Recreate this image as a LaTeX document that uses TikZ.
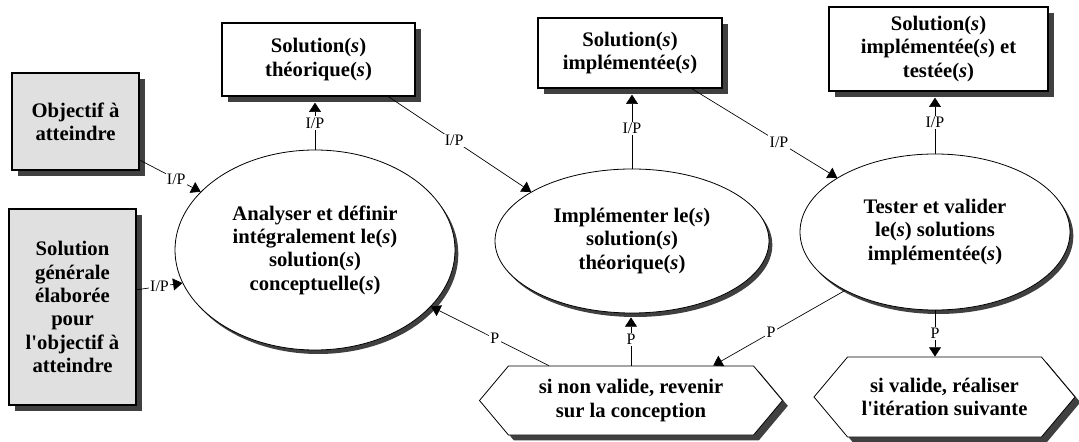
\documentclass[tikz,border=0pt]{standalone}
\usepackage{fontspec}
\setmainfont{Liberation Serif}
\usetikzlibrary{arrows.meta,shapes.geometric,shapes.symbols,shadows}

\definecolor{boxgray}{RGB}{224,224,224}
\definecolor{shadowgray}{RGB}{64,64,64}
\newcommand{\pls}{(\textit{s})}
\newcommand{\apo}{\textquotesingle}

\tikzset{every picture/.style={line width=0.8pt}}
\tikzset{
  shade box/.style={draw, line width=1pt, fill=white, align=center, inner sep=0pt,
    font=\bfseries\fontsize{15.5}{17.5}\selectfont,
    drop shadow={shadow xshift=4.5pt, shadow yshift=-4.5pt, fill=shadowgray, opacity=1}},
  goal box/.style={shade box, fill=boxgray},
  task/.style={ellipse, draw, line width=0.6pt, fill=white, align=center, inner sep=0pt,
    font=\bfseries\fontsize{15.5}{17.5}\selectfont,
    drop shadow={shadow xshift=2.5pt, shadow yshift=-3pt, fill=shadowgray, opacity=1}},
  choice/.style={signal, signal to=west and east, signal pointer angle=100, draw,
    line width=0.6pt, fill=white, align=center, inner sep=0pt,
    font=\bfseries\fontsize{15.5}{17.5}\selectfont,
    drop shadow={shadow xshift=4pt, shadow yshift=-4pt, fill=shadowgray, opacity=1}},
  link/.style={line width=0.5pt, -{Triangle[width=9pt,length=7pt]}},
  lbl/.style={fill=white, inner sep=1pt, font=\fontsize{12}{12}\selectfont}
}

\begin{document}
\begin{tikzpicture}[x=0.75pt,y=0.75pt,yscale=-1, xscale=1]
\useasboundingbox (0,0) rectangle (1079,442);

%Shape: Rectangle [inputs]
\node [goal box, minimum width=95.25pt, minimum height=72.75pt] (obj) at (75.5,121.5) {Objectif à\\atteindre};
\node [goal box, minimum width=95.25pt, minimum height=147pt] (gen) at (72.5,307) {Solution\\générale\\élaborée\\pour\\l\apo objectif à\\atteindre};

%Shape: Rectangle [outputs]
\node [shade box, minimum width=144.75pt, minimum height=54.75pt] (theo) at (318.5,59.5) {Solution\pls\\théorique\pls};
\node [shade box, minimum width=138pt, minimum height=52.5pt] (implbox) at (630,53) {Solution\pls\\implémentée\pls};
\node [shade box, minimum width=164.25pt, minimum height=63pt] (testbox) at (938.5,49) {Solution\pls\\implémentée\pls\ et\\testée\pls};

%Shape: Ellipse [activities]
\node [task, minimum width=210pt, minimum height=150pt] (ana) at (315,250) {Analyser et définir\\intégralement le\pls\\solution\pls\\conceptuelle\pls};
\node [task, minimum width=205.5pt, minimum height=108pt] (impl) at (632,241) {Implémenter le\pls\\solution\pls\\théorique\pls};
\node [task, minimum width=202.5pt, minimum height=117pt] (test) at (935,232) {Tester et valider\\le\pls\ solutions\\implémentée\pls};

%Shape: Hexagon [decisions]
\node [choice, minimum width=227.25pt, minimum height=51.75pt] (nonval) at (631,400.5) {si non valide, revenir\\sur la conception};
\node [choice, minimum width=195.75pt, minimum height=60pt] (val) at (944.5,397) {si valide, réaliser\\l\apo itération suivante};

% I/P links
\draw [link] (obj.-31) -- node [lbl, pos=0.6] {I/P} (ana.153);
\draw [link] (gen.15) -- node [lbl, pos=0.5] {I/P} (ana.-166);
\draw [link, shorten >=4.5pt] (ana.north) -- node [lbl] {I/P} (ana.north |- theo.south);
\draw [link] (theo.-28) -- node [lbl, pos=0.46] {I/P} (impl.154);
\draw [link, shorten >=4.5pt] (impl.north) -- node [lbl] {I/P} (impl.north |- implbox.south);
\draw [link] (implbox.-30) -- node [lbl, pos=0.6] {I/P} (test.151);
\draw [link, shorten >=4.5pt] (test.north) -- node [lbl] {I/P} (test.north |- testbox.south);

% P links
\draw [link] (nonval.157) -- node [lbl, pos=0.46] {P} (ana.-26);
\draw [link, shorten >=3pt] (nonval.north) -- node [lbl] {P} (nonval.north |- impl.south);
\draw [link] (test.-147) -- node [lbl, pos=0.56] {P} (nonval.23);
\draw [link] (test.south) -- node [lbl] {P} (test.south |- val.north);
\end{tikzpicture}
\end{document}
